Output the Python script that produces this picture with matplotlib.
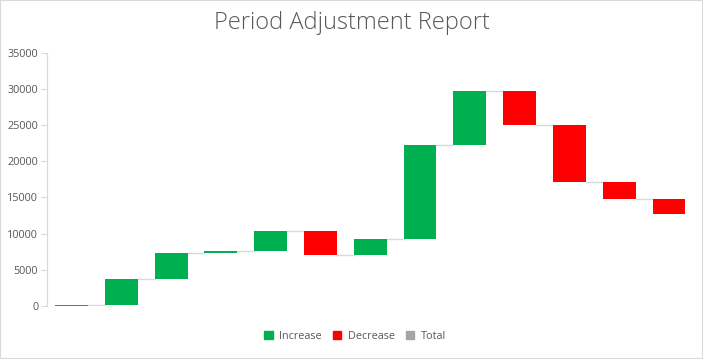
import matplotlib
matplotlib.use("Agg")
import matplotlib.pyplot as plt
from matplotlib.patches import Patch, Rectangle
import numpy as np

GREEN = "#00b050"; RED = "#ff0000"; GREY = "#a5a5a5"
TEXT = "#595959"; LINE = "#d9d9d9"

plt.rcParams["font.family"] = "Open Sans"

# --- data: period-to-period changes (waterfall steps) ---
steps = [150, 3600, 3550, 250, 2750, -3250, 2150, 13000, 7450, -4600, -7850, -2400, -2050]
yticks = [0, 5000, 10000, 15000, 20000, 25000, 30000, 35000]

ends = np.cumsum(steps)
starts = ends - np.array(steps)
x = np.arange(len(steps))
colors = [GREEN if s >= 0 else RED for s in steps]

fig = plt.figure(figsize=(7.03, 3.59), dpi=100)
fig.patch.set_facecolor("white")
ax = fig.add_axes([0.0663, 0.1476, 0.9207, 0.7054])

width = 0.66
ax.bar(x, steps, bottom=starts, width=width, color=colors, linewidth=0, zorder=3)

# connectors between bars
for i in range(len(steps) - 1):
    ax.plot([x[i] + width / 2, x[i + 1] - width / 2], [ends[i], ends[i]],
            color=LINE, linewidth=1.0, zorder=2)

ax.set_xlim(-0.5, len(steps) - 0.5)
ax.set_ylim(0, 35000)
ax.set_yticks(yticks)
ax.set_yticklabels([str(t) for t in yticks])
ax.set_xticks([])
for side in ("top", "right", "bottom"):
    ax.spines[side].set_visible(False)
ax.spines["left"].set_color(LINE)
ax.tick_params(axis="y", colors=LINE, labelcolor=TEXT, labelsize=7.8, length=4, pad=2)

fig.text(0.5, 0.937, "Period Adjustment Report", ha="center", va="center",
         fontsize=17, color=TEXT, fontweight="light")

handles = [Patch(color=GREEN, label="Increase"),
           Patch(color=RED, label="Decrease"),
           Patch(color=GREY, label="Total")]
fig.legend(handles=handles, loc="center", bbox_to_anchor=(0.505, 0.064), ncol=3,
           frameon=False, fontsize=7.8, labelcolor=TEXT, handlelength=0.8,
           handleheight=0.8, handletextpad=0.6, columnspacing=1.0)

# chart border
fig.add_artist(Rectangle((0, 0), 1, 1, transform=fig.transFigure, fill=False,
                         edgecolor=LINE, linewidth=1.5))

fig.savefig("out.png", dpi=100, facecolor="white")
